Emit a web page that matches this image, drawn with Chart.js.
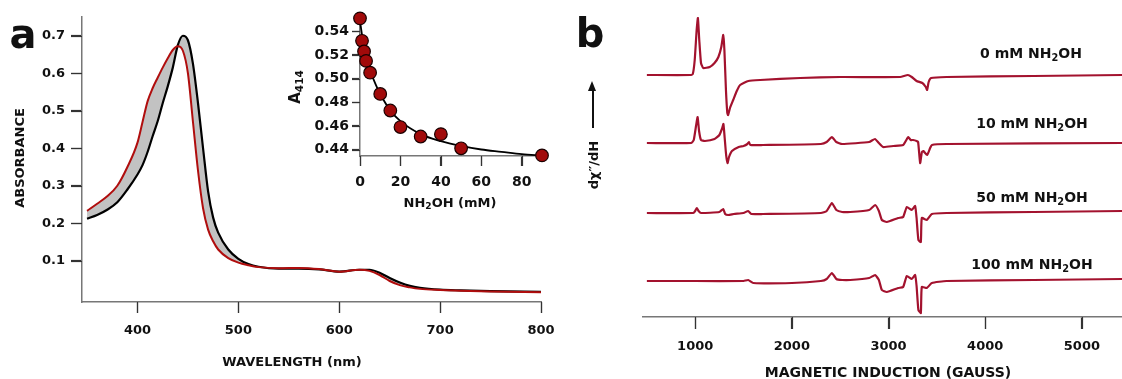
<!DOCTYPE html>
<html>
<head>
<meta charset="utf-8">
<script src="https://cdn.jsdelivr.net/npm/chart.js@4.4.1/dist/chart.umd.min.js"></script>
<style>
    body { margin: 0; background: #fff; width: 1122px; height: 379px; overflow: hidden; position: relative;
           font-family: 'DejaVu Sans', sans-serif; font-weight: bold; color: #111; }
    canvas { position: absolute; }
    .t { position: absolute; white-space: nowrap; line-height: 1; transform: translate(-50%, -50%); }
    .r { transform: translate(-50%, -50%) rotate(-90deg); }
    sub { font-size: 70%; vertical-align: -0.3em; line-height: 0; }
    .arrow { position: absolute; left: 592px; top: 90px; width: 1.5px; height: 38px; background: #111; }
    .arrow:before { content: ''; position: absolute; left: -4px; top: -9px; border-left: 4.75px solid transparent;
                    border-right: 4.75px solid transparent; border-bottom: 10px solid #111; }
</style>
</head>
<body>
<canvas id="specChart" width="570" height="379" style="left:0;top:0;width:570px;height:379px"></canvas>
<canvas id="insetChart" width="260" height="215" style="left:300px;top:0;width:260px;height:215px"></canvas>
<canvas id="eprChart" width="522" height="379" style="left:600px;top:0;width:522px;height:379px"></canvas>

<div class="t" style="left:23px;top:34px;font-size:40px">a</div>
<div class="t" style="left:590px;top:33px;font-size:40px">b</div>
<div class="t r" style="left:19px;top:158px;font-size:13px">ABSORBANCE</div>
<div class="t" style="left:292px;top:361px;font-size:13px">WAVELENGTH (nm)</div>
<div class="t r" style="left:295px;top:87px;font-size:15px">A<sub>414</sub></div>
<div class="t" style="left:450px;top:202px;font-size:13px">NH<sub>2</sub>OH (mM)</div>
<div class="arrow"></div>
<div class="t r" style="left:593px;top:165px;font-size:13px">dχ″/dH</div>
<div class="t" style="left:888px;top:372px;font-size:14px">MAGNETIC INDUCTION (GAUSS)</div>
<div class="t" style="left:1031px;top:53px;font-size:14px">0 mM NH<sub>2</sub>OH</div>
<div class="t" style="left:1032px;top:123px;font-size:14px">10 mM NH<sub>2</sub>OH</div>
<div class="t" style="left:1032px;top:197px;font-size:14px">50 mM NH<sub>2</sub>OH</div>
<div class="t" style="left:1032px;top:264px;font-size:14px">100 mM NH<sub>2</sub>OH</div>

<script>
// Panel a: UV-vis spectra (first = 0 mM, last = highest NH2OH)
const wavelengths = [350, 360, 370, 380, 390, 400, 405, 410, 415, 420, 425, 430, 435, 440, 445,
                     450, 455, 460, 465, 470, 475, 480, 490, 500, 510, 520, 540, 560, 580, 600, 620,
                     630, 640, 650, 660, 670, 680, 700, 720, 750, 800];
const absFirst = [0.212, 0.222, 0.236, 0.256, 0.290, 0.330, 0.355, 0.390, 0.432, 0.472, 0.520, 0.565, 0.615, 0.675, 0.700,
                  0.688, 0.625, 0.520, 0.400, 0.285, 0.215, 0.175, 0.130, 0.105, 0.091, 0.084, 0.079, 0.079, 0.077, 0.071, 0.076,
                  0.076, 0.068, 0.054, 0.042, 0.033, 0.028, 0.023, 0.021, 0.019, 0.017];
const absLast = [0.233, 0.252, 0.272, 0.300, 0.350, 0.415, 0.470, 0.525, 0.560, 0.588, 0.615, 0.640, 0.662, 0.672, 0.660,
                 0.600, 0.470, 0.340, 0.240, 0.183, 0.152, 0.130, 0.107, 0.095, 0.088, 0.083, 0.080, 0.081, 0.078, 0.071, 0.076,
                 0.073, 0.062, 0.046, 0.035, 0.029, 0.025, 0.022, 0.020, 0.018, 0.016];
const wlTicks = [400, 500, 600, 700, 800];
const absTicks = [0.1, 0.2, 0.3, 0.4, 0.5, 0.6, 0.7];

// Inset: A414 vs NH2OH
const nh2ohConc = [0, 1, 2, 3, 5, 10, 15, 20, 30, 40, 50, 90];
const a414 = [0.551, 0.532, 0.523, 0.515, 0.505, 0.487, 0.473, 0.459, 0.451, 0.453, 0.441, 0.435];
const fitConc = [0, 1, 2, 3, 5, 8, 10, 15, 20, 30, 40, 50, 60, 70, 80, 90];
const fitA414 = [0.549, 0.537, 0.528, 0.520, 0.507, 0.494, 0.487, 0.473, 0.464, 0.453, 0.447, 0.443, 0.440, 0.438, 0.436, 0.435];
const concTicks = [0, 20, 40, 60, 80];
const a414Ticks = [0.44, 0.46, 0.48, 0.50, 0.52, 0.54];

// Panel b: EPR traces, [field (G), signal relative to baseline]
const epr0mM = [[500, 0], [950, 0], [975, 1], [995, 15], [1015, 45], [1028, 57], [1042, 35], [1060, 12], [1083, 7],
    [1150, 8], [1200, 12], [1240, 18], [1270, 28], [1290, 40], [1302, 25], [1318, -15], [1332, -38], [1340, -40],
    [1360, -33], [1393, -25], [1430, -16], [1465, -10], [1550, -6], [1672, -5], [2086, -3], [2500, -2], [3120, -2],
    [3200, 0], [3240, -2], [3290, -6], [3350, -8], [3385, -12], [3399, -15], [3415, -7], [3440, -3], [3600, -2],
    [4500, -1], [5420, 0]];
const epr10mM = [[500, 0], [960, 0], [985, 3], [1010, 18], [1025, 26], [1040, 12], [1060, 3], [1100, 2], [1200, 4],
    [1250, 8], [1280, 15], [1292, 19], [1305, 5], [1320, -12], [1335, -20], [1350, -14], [1380, -8], [1450, -4],
    [1500, -3], [1540, -1], [1555, 1], [1570, -2], [1700, -2], [2300, -1], [2360, 1], [2414, 6], [2460, 1], [2520, -1],
    [2800, 1], [2860, 4], [2900, 0], [2944, -4], [3050, -3], [3151, -2], [3190, 4], [3203, 6], [3230, 3], [3254, 3],
    [3290, 2], [3306, 1], [3327, -20], [3345, -9], [3360, -8], [3399, -12], [3430, -5], [3448, -2], [3600, -1], [5420, 0]];
const epr50mM = [[500, 0], [980, 0], [1000, 2], [1017, 5], [1035, 2], [1060, 0], [1250, 1], [1290, 4], [1310, -1],
    [1341, -2], [1400, -1], [1500, 0], [1548, 2], [1580, -1], [1700, -1], [2300, 0], [2360, 2], [2414, 10], [2460, 3],
    [2520, 1], [2603, 1], [2800, 3], [2861, 8], [2900, 2], [2931, -7], [2982, -9], [3100, -5], [3151, -4], [3189, 6],
    [3241, 3], [3275, 7], [3290, -5], [3309, -27], [3334, -29], [3344, -5], [3396, -7], [3448, -1], [3600, 0],
    [4500, 1], [5420, 2]];
const epr100mM = [[500, 0], [1000, 0], [1500, 0], [1548, 1], [1600, -2], [2000, -2], [2300, 0], [2360, 2], [2414, 8],
    [2460, 2], [2520, 1], [2603, 1], [2800, 3], [2861, 6], [2900, 1], [2931, -9], [2982, -11], [3100, -7], [3151, -6],
    [3189, 5], [3241, 2], [3275, 6], [3290, -5], [3309, -29], [3334, -32], [3344, -6], [3396, -7], [3448, -2],
    [3600, 0], [4500, 1], [5420, 2]];
const eprTraces = [epr0mM, epr10mM, epr50mM, epr100mM];
const eprOffsets = [242, 174, 104, 36];
const fieldTicks = [1000, 2000, 3000, 4000, 5000];

const AXIS = '#777';
const TICK = '#333';
const RED = '#b00d0d';
const EPR_RED = '#a3122e';

Chart.defaults.font.family = "'DejaVu Sans', sans-serif";
Chart.defaults.font.weight = 'bold';
Chart.defaults.color = '#111';

// Outward tick marks, drawn at each tick value of every visible axis
const tickMarks = {
    id: 'tickMarks',
    afterDraw(chart) {
        const ctx = chart.ctx;
        Object.values(chart.scales).forEach(scale => {
            if (!scale.options.display) return;
            const len = scale.options.grid.tickLength;
            ctx.save();
            ctx.strokeStyle = TICK;
            ctx.lineWidth = 1.2;
            scale.ticks.forEach(t => {
                const p = Math.round(scale.getPixelForValue(t.value)) + 0.5;
                ctx.beginPath();
                if (scale.isHorizontal()) {
                    ctx.moveTo(p, scale.top);
                    ctx.lineTo(p, scale.top + len);
                } else {
                    ctx.moveTo(scale.right, p);
                    ctx.lineTo(scale.right - len, p);
                }
                ctx.stroke();
            });
            ctx.restore();
        });
    }
};

function fixedTicks(values) {
    return scale => { scale.ticks = values.map(v => ({ value: v })); };
}

function axis(opts) {
    return {
        type: 'linear',
        min: opts.min,
        max: opts.max,
        afterBuildTicks: fixedTicks(opts.ticks),
        afterFit: opts.fit,
        grid: { drawOnChartArea: false, drawTicks: true, tickLength: opts.tickLength || 11, tickColor: TICK, tickWidth: 1.2 },
        border: { display: true, color: AXIS, width: 1.5 },
        ticks: {
            font: { size: opts.size || 13, weight: 'bold' },
            padding: opts.padding,
            maxRotation: 0,
            autoSkip: false,
            callback: opts.format || (v => v)
        }
    };
}

const noFrills = {
    responsive: false,
    animation: false,
    events: [],
    plugins: {
        legend: { display: false },
        tooltip: { enabled: false },
        filler: { drawTime: 'beforeDatasetsDraw' }
    }
};

function initSpectraChart() {
    const ctx = document.getElementById('specChart').getContext('2d');
    const toPoints = ys => wavelengths.map((x, i) => ({ x: x, y: ys[i] }));
    new Chart(ctx, {
        type: 'line',
        data: {
            datasets: [
                {
                    data: toPoints(absLast),
                    borderColor: RED,
                    borderWidth: 2,
                    pointRadius: 0,
                    cubicInterpolationMode: 'monotone',
                    fill: 1,
                    backgroundColor: '#c2c2c2'
                },
                {
                    data: toPoints(absFirst),
                    borderColor: '#000',
                    borderWidth: 2.2,
                    pointRadius: 0,
                    cubicInterpolationMode: 'monotone',
                    fill: false
                }
            ]
        },
        options: {
            ...noFrills,
            layout: { padding: { top: 17, right: 29, left: 0, bottom: 0 } },
            scales: {
                x: axis({ min: 345, max: 800, ticks: wlTicks, padding: 10, fit: s => { s.height = 77; } }),
                y: axis({ min: -0.01, max: 0.75, ticks: absTicks, padding: 6,
                          format: v => v.toFixed(1), fit: s => { s.width = 82; } })
            }
        },
        plugins: [tickMarks]
    });
}

function initInsetChart() {
    const ctx = document.getElementById('insetChart').getContext('2d');
    new Chart(ctx, {
        type: 'line',
        data: {
            datasets: [
                {
                    data: nh2ohConc.map((x, i) => ({ x: x, y: a414[i] })),
                    showLine: false,
                    pointRadius: 6.3,
                    pointBackgroundColor: '#a10a0a',
                    pointBorderColor: '#1a0000',
                    pointBorderWidth: 1.2,
                    clip: false
                },
                {
                    data: fitConc.map((x, i) => ({ x: x, y: fitA414[i] })),
                    borderColor: '#000',
                    borderWidth: 1.8,
                    pointRadius: 0,
                    cubicInterpolationMode: 'monotone',
                    clip: false
                }
            ]
        },
        options: {
            ...noFrills,
            layout: { padding: { top: 16, right: 18, left: 0, bottom: 0 } },
            scales: {
                x: axis({ min: 0, max: 90, ticks: concTicks, size: 14, padding: 8, tickLength: 10,
                          fit: s => { s.height = 59; } }),
                y: axis({ min: 0.4345, max: 0.553, ticks: a414Ticks, size: 14, padding: 3, tickLength: 8,
                          format: v => v.toFixed(2), fit: s => { s.width = 60; } })
            }
        },
        plugins: [tickMarks]
    });
}

function initEprChart() {
    const ctx = document.getElementById('eprChart').getContext('2d');
    const datasets = eprTraces.map((trace, k) => ({
        data: trace.map(p => ({ x: p[0], y: p[1] + eprOffsets[k] })),
        borderColor: EPR_RED,
        borderWidth: 2.2,
        pointRadius: 0,
        tension: 0.15,
        fill: false
    }));
    new Chart(ctx, {
        type: 'line',
        data: { datasets: datasets },
        options: {
            ...noFrills,
            layout: { padding: { top: 17, right: 0, left: 43, bottom: 0 } },
            scales: {
                x: axis({ min: 460, max: 5415, ticks: fieldTicks, padding: 10, tickLength: 12,
                          fit: s => { s.height = 62; } }),
                y: { type: 'linear', min: 0, max: 300, display: false }
            }
        },
        plugins: [tickMarks]
    });
}

initSpectraChart();
initInsetChart();
initEprChart();
</script>
</body>
</html>
